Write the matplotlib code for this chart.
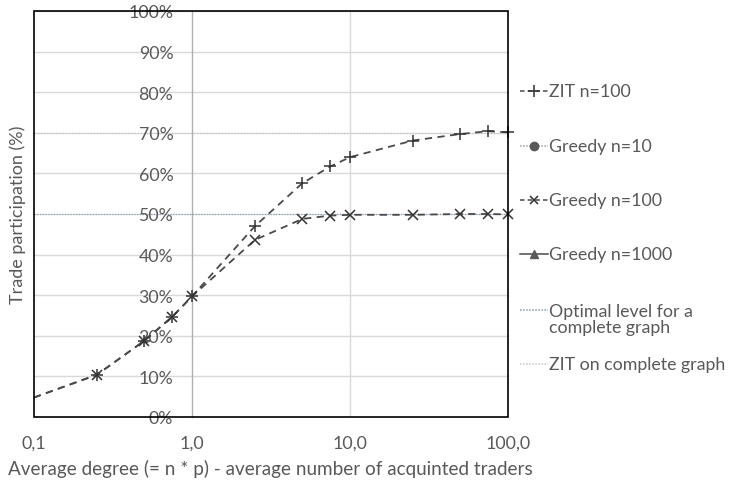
import matplotlib
matplotlib.use("Agg")
import matplotlib.pyplot as plt
from matplotlib.lines import Line2D
from matplotlib.patches import Rectangle
from matplotlib.ticker import FixedLocator, NullLocator

plt.rcParams['font.family'] = ['Lato', 'DejaVu Sans']

# ---- data ----
degree = [0.1, 0.25, 0.5, 0.75, 1.0, 2.5, 5.0, 7.5, 10.0, 25.0, 50.0, 75.0, 100.0]
zit_n100 = [4.8, 10.4, 18.8, 24.7, 29.7, 47.0, 57.6, 61.7, 64.0, 68.1, 69.7, 70.4, 70.1]
greedy_n100 = [4.8, 10.4, 18.8, 24.7, 29.7, 43.6, 48.8, 49.6, 49.8, 49.8, 50.0, 50.0, 49.9]
greedy_n10 = []
greedy_n1000 = []
optimal_level = 50.0
zit_complete = 70.0

x_ticks = [0.1, 1.0, 10.0, 100.0]
x_tick_labels = ["0,1", "1,0", "10,0", "100,0"]
y_ticks = [0, 10, 20, 30, 40, 50, 60, 70, 80, 90, 100]
y_tick_labels = [f"{v}%" for v in y_ticks]

legend_labels = ["ZIT n=100", "Greedy n=10", "Greedy n=100", "Greedy n=1000",
                 "Optimal level for a\ncomplete graph", "ZIT on complete graph"]

TXT = '#595959'
LINE = '#4a4a4a'
MK = '#333333'
OPT = '#8497b0'
ZC = '#c8c8c8'

W, H = 734, 485
fig = plt.figure(figsize=(W / 100, H / 100), dpi=100)
L, R, T, B = 34, 508, 12, 418
ax = fig.add_axes([L / W, (H - B) / H, (R - L) / W, (B - T) / H])

ax.set_xscale('log')
ax.set_xlim(0.1, 100)
ax.set_ylim(0, 100)

# gridlines
for v in y_ticks:
    ax.axhline(v, color='#d9d9d9', lw=1.0, zorder=0)
ax.axvline(10, color='#d9d9d9', lw=1.0, zorder=0)

# reference lines
ax.axhline(zit_complete, color=ZC, lw=0.9, ls=(0, (1, 1.5)), zorder=1)
ax.axhline(optimal_level, color=OPT, lw=0.8, ls=(0, (1, 1.5)), zorder=1)

# series
mk_idx = list(range(1, len(degree)))
ax.plot(degree, zit_n100, color=LINE, lw=1.3, ls=(0, (4, 3)), marker='+',
        markersize=9, markeredgecolor=MK, markeredgewidth=1.1, markevery=mk_idx,
        zorder=3, clip_on=False)
ax.plot(degree, greedy_n100, color=LINE, lw=1.3, ls=(0, (4, 3)), marker='x',
        markersize=7, markeredgecolor=MK, markeredgewidth=1.1, markevery=mk_idx,
        zorder=3, clip_on=False)
ax.plot(greedy_n10, greedy_n10, color=LINE, lw=1.0, ls=':', marker='o')
ax.plot(greedy_n1000, greedy_n1000, color=LINE, lw=1.0, marker='^')

# move y axis to cross at x = 1
for s in ['top', 'right', 'bottom']:
    ax.spines[s].set_visible(False)
ax.spines['left'].set_position(('data', 1.0))
ax.spines['left'].set_color('#b0b0b0')
ax.spines['left'].set_linewidth(1.0)
ax.spines['left'].set_zorder(0.5)

ax.yaxis.set_major_locator(FixedLocator(y_ticks))
ax.set_yticklabels(y_tick_labels)
ax.xaxis.set_major_locator(FixedLocator(x_ticks))
ax.xaxis.set_minor_locator(NullLocator())
ax.set_xticklabels(x_tick_labels)
ax.tick_params(axis='y', length=0, pad=13.5, labelsize=12.8, labelcolor=TXT)
ax.tick_params(axis='x', length=0, pad=12.5, labelsize=12.8, labelcolor=TXT)

# frame
ax.add_patch(Rectangle((0, 0), 1, 1, transform=ax.transAxes, fill=False,
                       edgecolor='#000000', lw=1.2, zorder=5, clip_on=False))

# axis titles
fig.text(18 / W, 1 - 215 / H, "Trade participation (%)", rotation=90,
         ha='center', va='center', fontsize=13, color=TXT)
fig.text(270 / W, 1 - 469 / H, "Average degree (= n * p) - average number of acquinted traders",
         ha='center', va='center', fontsize=13.6, color=TXT)

# legend (manual, Excel-style)
styles = [
    dict(color=LINE, ls=(0, (3, 2)), marker='+', ms=8, mec=MK, mew=1.1),
    dict(color='#a0a0a0', ls=(0, (1, 1)), marker='o', ms=6, mfc='#595959', mec='#595959'),
    dict(color=LINE, ls=(0, (3, 2)), marker='x', ms=6, mec=MK, mew=1.1),
    dict(color=LINE, ls='-', marker='^', ms=6, mfc='#595959', mec='#595959'),
    dict(color=OPT, ls=(0, (1, 1)), marker=None),
    dict(color=ZC, ls=(0, (1, 1)), marker=None),
]
ys = [92, 147, 201, 255, 311, 365]
for lab, st, yy in zip(legend_labels, styles, ys):
    yf = 1 - yy / H
    ln = Line2D([520 / W, 548 / W], [yf, yf], transform=fig.transFigure, lw=1.1,
                **{k: v for k, v in st.items() if k not in ('marker', 'ms', 'mec', 'mfc', 'mew')})
    fig.add_artist(ln)
    if st.get('marker'):
        mk = Line2D([534 / W], [yf], transform=fig.transFigure, ls='none',
                    marker=st['marker'], ms=st.get('ms', 6), mec=st.get('mec', MK),
                    mfc=st.get('mfc', MK), mew=st.get('mew', 1.0))
        fig.add_artist(mk)
    if '\n' in lab:
        fig.text(549 / W, 1 - (yy + 9) / H, lab, ha='left', va='center',
                 fontsize=12.8, color=TXT, linespacing=1.05)
    else:
        fig.text(549 / W, yf, lab, ha='left', va='center', fontsize=12.8, color=TXT)

fig.savefig('out.png', dpi=100)
